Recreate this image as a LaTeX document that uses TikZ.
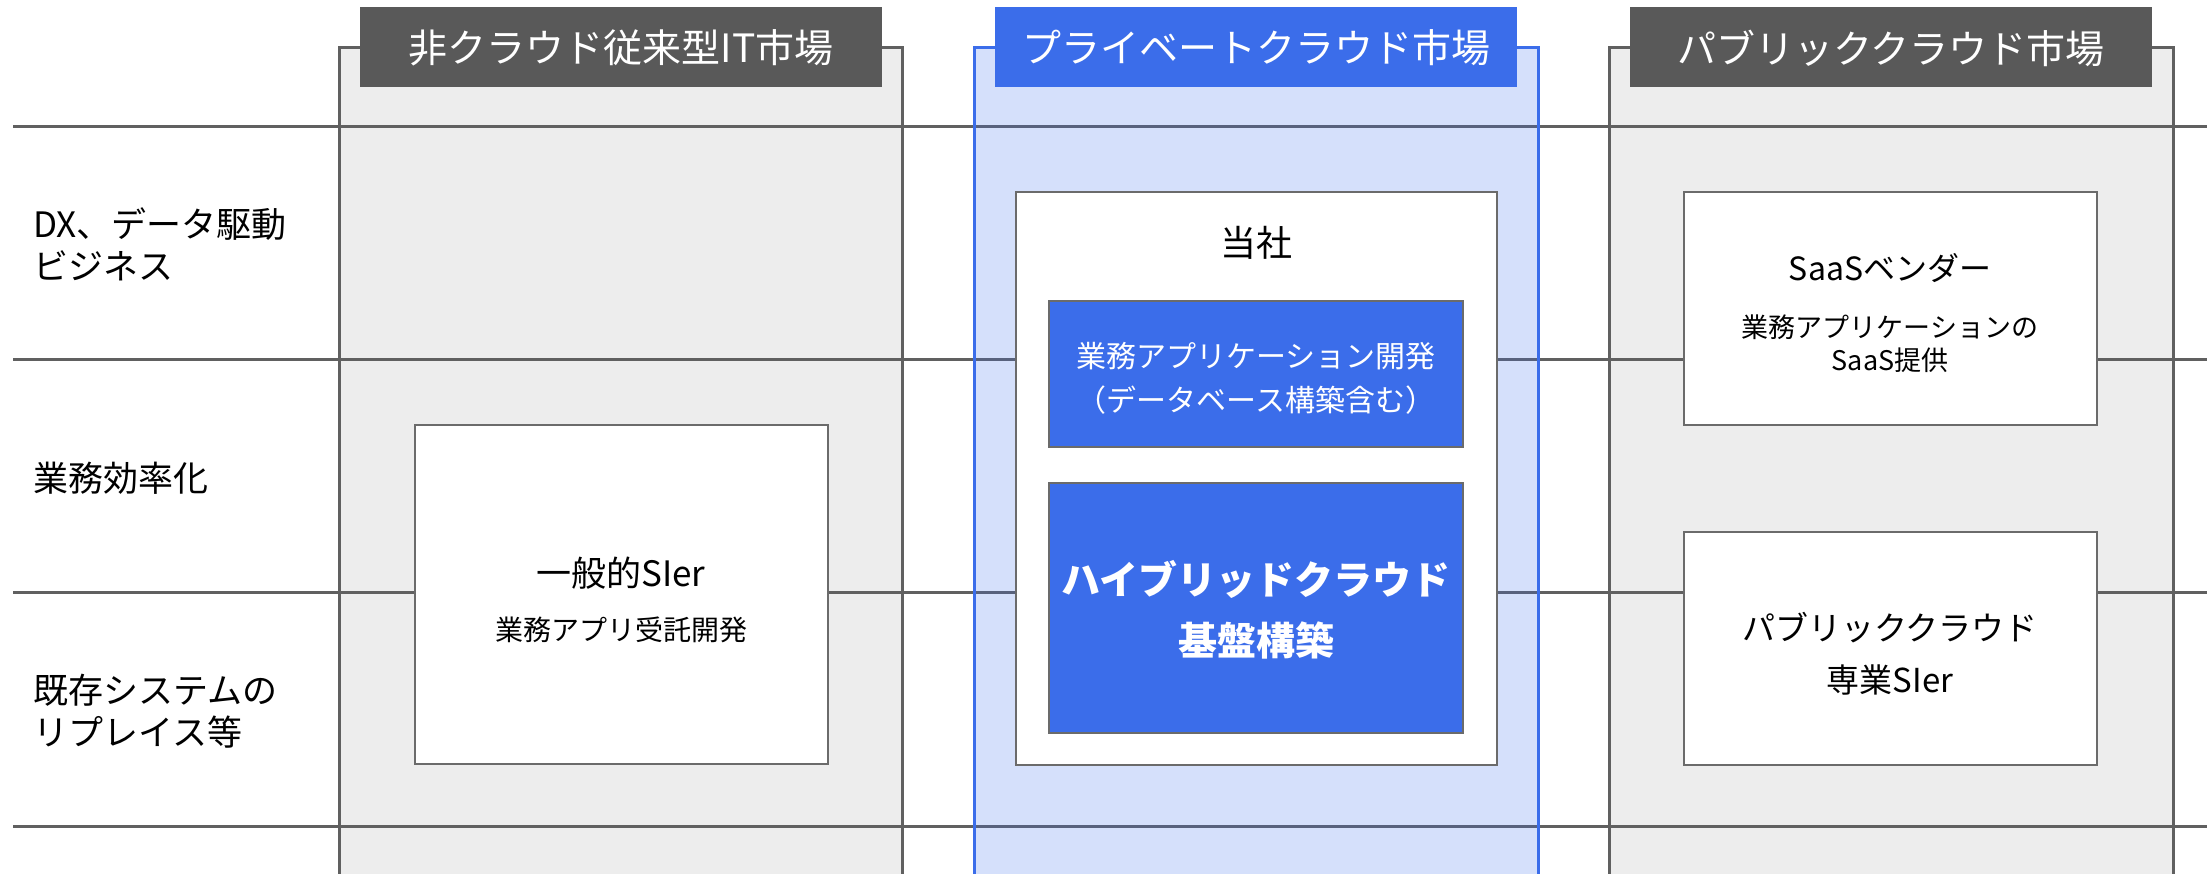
\documentclass[tikz,border=0pt]{standalone}
\usepackage{fontspec}
\setmainfont{Noto Sans CJK JP}
\definecolor{linegray}{HTML}{606060}
\definecolor{colgray}{HTML}{EDEDED}
\definecolor{titlegray}{HTML}{595959}
\definecolor{mainblue}{HTML}{3B6DEA}
\definecolor{boxborder}{HTML}{6B6B6B}
\begin{document}
\begin{tikzpicture}[x=1pt,y=-1pt,
  gridline/.style={draw=linegray, line width=3pt},
  graycol/.style={fill=colgray, draw=none},
  colborder/.style={draw=linegray, line width=3pt},
  titlebox/.style={fill=titlegray, draw=none, minimum width=522pt, minimum height=80pt, inner sep=0pt},
  titletext/.style={text=white, font=\fontsize{39}{46}\selectfont, inner sep=0pt},
  whitebox/.style={fill=white, draw=boxborder, line width=2pt, inner sep=0pt},
  bluebox/.style={fill=mainblue, draw=boxborder, line width=1.5pt, inner sep=0pt},
  rowlabel/.style={anchor=west, align=left, inner sep=0pt, font=\fontsize{35}{42}\selectfont},
  plain/.style={inner sep=0pt, align=center}
]
\useasboundingbox (0,0) rectangle (2211,873);

% column fills
\fill[colgray] (339,47) rectangle (902,880);
\fill[colgray] (1609,47) rectangle (2173,880);

% grid lines
\coordinate (g1a) at (13,126);  \coordinate (g1b) at (2207,126);
\coordinate (g2a) at (13,359);  \coordinate (g2b) at (2207,359);
\coordinate (g3a) at (13,592);  \coordinate (g3b) at (2207,592);
\coordinate (g4a) at (13,826);  \coordinate (g4b) at (2207,826);
\draw[gridline] (g1a) -- (g1b);
\draw[gridline] (g2a) -- (g2b);
\draw[gridline] (g3a) -- (g3b);
\draw[gridline] (g4a) -- (g4b);

% blue column fill (translucent over lines)
\fill[mainblue, fill opacity=0.21] (974,47) rectangle (1538,880);

% column borders
\draw[colborder] (339,880) -- (339,47) -- (902,47) -- (902,880);
\draw[draw=mainblue, line width=3pt] (974,880) -- (974,47) -- (1538,47) -- (1538,880);
\draw[colborder] (1609,880) -- (1609,47) -- (2173,47) -- (2173,880);

% title boxes
\node[titlebox] (t1) at (621,47) {};
\node[titletext] (t1txt) at (621,48) {非クラウド従来型IT市場};
\node[titlebox, fill=mainblue] (t2) at (1256,47) {};
\node[titletext] (t2txt) at (1256,48) {プライベートクラウド市場};
\node[titlebox] (t3) at (1891,47) {};
\node[titletext] (t3txt) at (1891,48) {パブリッククラウド市場};

% row labels
\node[rowlabel] (r1) at (33,244) {DX、データ駆動\\ビジネス};
\node[rowlabel] (r2) at (33,478) {業務効率化};
\node[rowlabel] (r3) at (33,711) {既存システムの\\リプレイス等};

% left column box
\node[whitebox, minimum width=413pt, minimum height=339pt] (sier) at (621.5,594.5) {};
\node[plain, font=\fontsize{35}{42}\selectfont] (sierA) at (621,573) {一般的SIer};
\node[plain, font=\fontsize{28}{34}\selectfont] (sierB) at (621,630) {業務アプリ受託開発};

% center column
\node[whitebox, minimum width=481pt, minimum height=573pt] (tosha) at (1256.5,478.5) {};
\node[plain, font=\fontsize{36}{42}\selectfont] (toshaT) at (1256,243) {当社};
\node[bluebox, minimum width=414pt, minimum height=146pt] (app) at (1256,374) {};
\node[plain, text=white, font=\fontsize{30}{44}\selectfont] (appT) at (1256,378) {業務アプリケーション開発\\（データベース構築含む）};
\node[bluebox, minimum width=414pt, minimum height=250pt] (hyb) at (1256,608) {};
\node[plain, text=white, font=\bfseries\fontsize{39}{61}\selectfont] (hybT) at (1256,610) {ハイブリッドクラウド\\基盤構築};

% right column
\node[whitebox, minimum width=413pt, minimum height=233pt] (saas) at (1890.5,308.5) {};
\node[plain, font=\fontsize{32}{38}\selectfont] (saasA) at (1890,268) {SaaSベンダー};
\node[plain, font=\fontsize{27}{33}\selectfont] (saasB) at (1890,343.5) {業務アプリケーションの\\SaaS提供};
\node[whitebox, minimum width=413pt, minimum height=233pt] (pub) at (1890.5,648.5) {};
\node[plain, font=\fontsize{33}{52}\selectfont] (pubT) at (1890,654) {パブリッククラウド\\専業SIer};
\end{tikzpicture}
\end{document}
